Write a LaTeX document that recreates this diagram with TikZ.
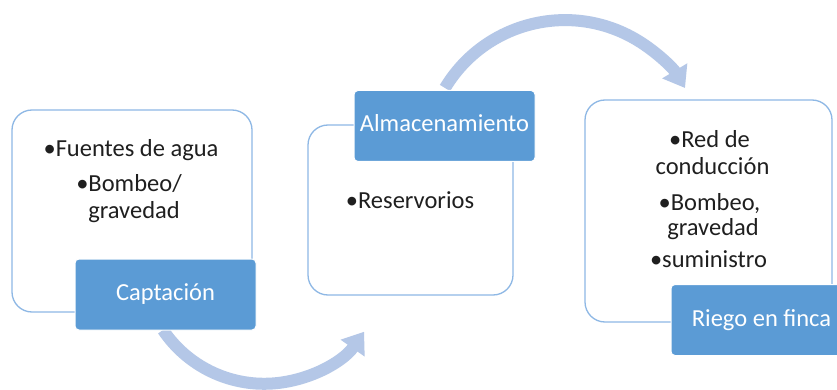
\documentclass[tikz,border=0pt]{standalone}
\usepackage{fontspec}
\setmainfont{Carlito}
\usetikzlibrary{arrows.meta}
\definecolor{boxline}{HTML}{8EB8E5}
\definecolor{labfill}{HTML}{5B9BD5}
\definecolor{arrowc}{HTML}{B4C7E7}
\definecolor{txt}{HTML}{1F1F1F}
\begin{document}
\begin{tikzpicture}[x=1pt,y=-1pt,
  bigbox/.style={draw=boxline, line width=1.3pt, fill=white, rounded corners=20pt, inner sep=0pt},
  labelbox/.style={fill=labfill, draw=white, line width=1pt, rounded corners=4pt,
    minimum width=181pt, minimum height=71pt, inner sep=0pt, text=white,
    font=\fontsize{24.5}{28}\selectfont, text height=17pt, text depth=5pt},
  itemtext/.style={text=txt, font=\fontsize{24.5}{28}\selectfont, anchor=base, inner sep=0pt},
  flow/.style={draw=arrowc, line width=12pt, -{Triangle[width=28pt,length=20pt]}}]
\clip (0,0) rectangle (837,390);
\fill[white] (0,0) rectangle (837,390);
% connectors
\coordinate (a1s) at (163,330);
\coordinate (a2s) at (445,88);
\draw[flow] (a1s) arc[start angle=-146, end angle=-35, radius=122pt];
\draw[flow] (a2s) arc[start angle=149, end angle=31, radius=140pt];
% boxes
\node[bigbox, minimum width=240pt, minimum height=202pt] (b1) at (132,211) {};
\node[bigbox, minimum width=205pt, minimum height=170pt] (b2) at (410.5,210) {};
\node[bigbox, minimum width=247pt, minimum height=222pt] (b3) at (708.5,211) {};
% labels
\node[labelbox] (l1) at (165.5,294.5) {Captación};
\node[labelbox] (l2) at (444.5,126) {Almacenamiento};
\node[labelbox] (l3) at (761.5,320) {Riego en finca};
% items
\node[itemtext] (t1a) at (131,157) {•Fuentes de agua};
\node[itemtext] (t1b) at (129,192) {•Bombeo/};
\node[itemtext] (t1c) at (134,218) {gravedad};
\node[itemtext] (t2a) at (410,208) {•Reservorios};
\node[itemtext] (t3a) at (709.5,148) {•Red de};
\node[itemtext] (t3b) at (712.5,175) {conducción};
\node[itemtext] (t3c) at (709.5,210) {•Bombeo,};
\node[itemtext] (t3d) at (713,235) {gravedad};
\node[itemtext] (t3e) at (708.5,267) {•suministro};
\end{tikzpicture}
\end{document}
